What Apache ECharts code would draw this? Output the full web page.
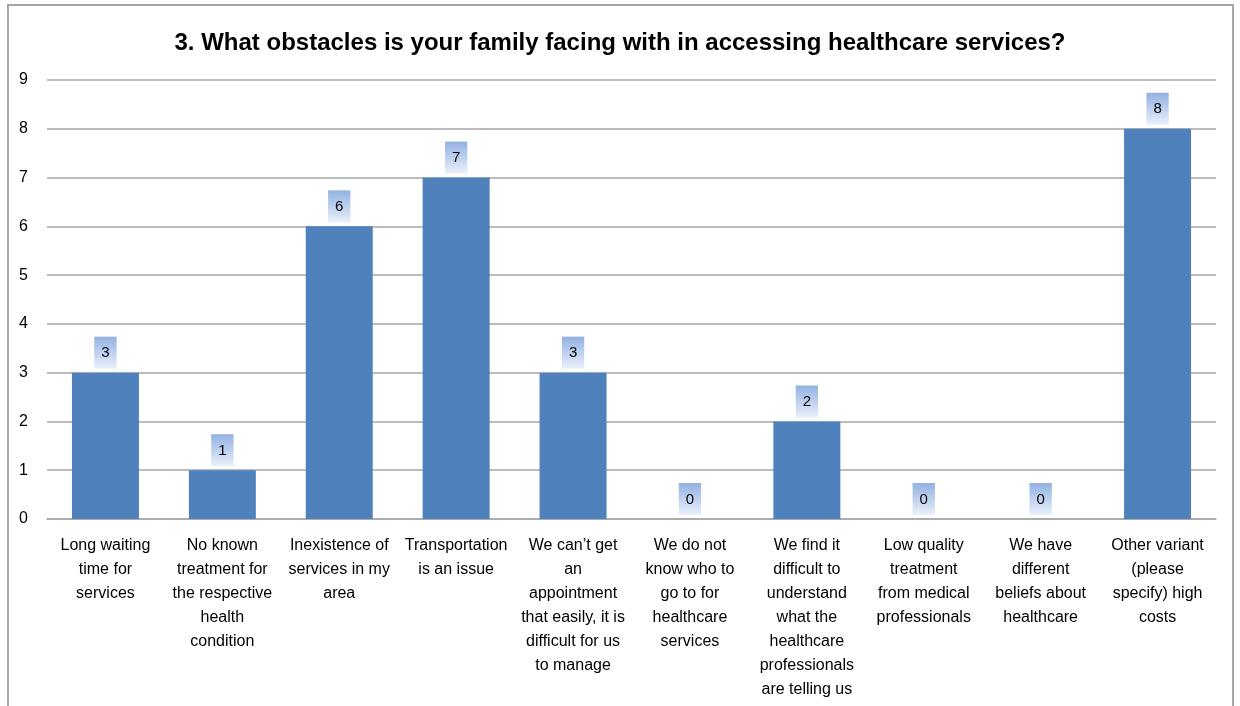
<!DOCTYPE html>
<html>
<head>
<meta charset="utf-8">
<script src="https://cdn.jsdelivr.net/npm/echarts@6/dist/echarts.min.js"></script>
<style>
  html, body { margin: 0; padding: 0; background: #fff; }
  #chart { width: 1240px; height: 706px; }
  #frame {
    position: absolute; left: 7px; top: 4px; width: 1223px; height: 720px;
    border: 2px solid #a6a6a6; pointer-events: none;
  }
</style>
</head>
<body>
<div id="chart"></div>
<div id="frame"></div>
<script>
// Categorías (con saltos de línea como en el original)
var categories = [
    'Long waiting\ntime for\nservices',
    'No known\ntreatment for\nthe respective\nhealth\ncondition',
    'Inexistence of\nservices in my\narea',
    'Transportation\nis an issue',
    'We can\u2019t get\nan\nappointment\nthat easily, it is\ndifficult for us\nto manage',
    'We do not\nknow who to\ngo to for\nhealthcare\nservices',
    'We find it\ndifficult to\nunderstand\nwhat the\nhealthcare\nprofessionals\nare telling us',
    'Low quality\ntreatment\nfrom medical\nprofessionals',
    'We have\ndifferent\nbeliefs about\nhealthcare',
    'Other variant\n(please\nspecify) high\ncosts'
];
var values = [3, 1, 6, 7, 3, 0, 2, 0, 0, 8];
var yTicks = { min: 0, max: 9, interval: 1 };

var chart = echarts.init(document.getElementById('chart'));

var labelBg = new echarts.graphic.LinearGradient(0, 0, 0, 1, [
    { offset: 0, color: '#92b1e2' },
    { offset: 1, color: '#e9f0fa' }
]);

chart.setOption({
    animation: false,
    title: {
        text: '3. What obstacles is your family facing with in accessing healthcare services?',
        left: 'center',
        top: 26,
        textStyle: {
            fontFamily: 'Liberation Sans',
            fontSize: 24,
            fontWeight: 'bold',
            color: '#000'
        }
    },
    grid: { left: 47, right: 24, top: 80, bottom: 187, containLabel: false },
    xAxis: {
        type: 'category',
        data: categories,
        axisTick: { show: false },
        axisLine: { lineStyle: { color: '#a6a6a6', width: 1.5 } },
        axisLabel: {
            interval: 0,
            margin: 15,
            fontFamily: 'Liberation Sans',
            fontSize: 16,
            lineHeight: 24,
            color: '#000'
        }
    },
    yAxis: {
        type: 'value',
        min: yTicks.min,
        max: yTicks.max,
        interval: yTicks.interval,
        axisLine: { show: false },
        axisTick: { show: false },
        splitLine: { lineStyle: { color: '#a6a6a6', width: 1.5 } },
        axisLabel: {
            margin: 19,
            fontFamily: 'Liberation Sans',
            fontSize: 16,
            color: '#000'
        }
    },
    series: [{
        type: 'bar',
        data: values,
        barWidth: 67,
        itemStyle: { color: '#4f81bd' },
        label: {
            show: true,
            position: 'top',
            distance: 4,
            fontFamily: 'Liberation Sans',
            fontSize: 15,
            color: '#000',
            padding: [9, 7, 8, 7],
            backgroundColor: labelBg
        }
    }]
});
</script>
</body>
</html>
